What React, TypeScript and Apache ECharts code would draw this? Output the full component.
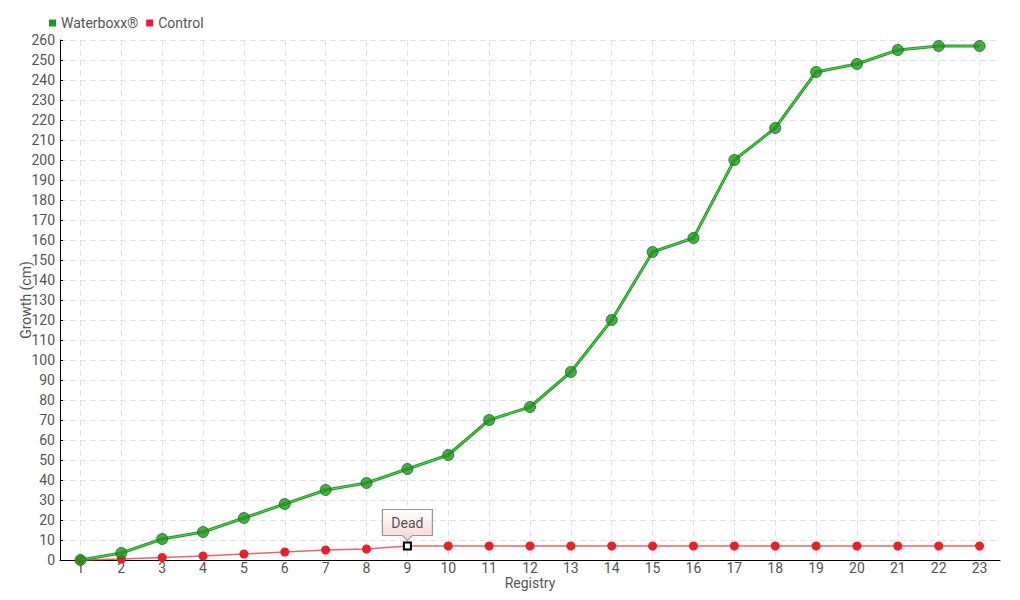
import React, { useEffect, useRef } from "react";
import * as echarts from "echarts";

const registry = ["1","2","3","4","5","6","7","8","9","10","11","12","13","14","15","16","17","18","19","20","21","22","23"];
const waterboxx = [0, 3.5, 10.5, 14, 21, 28, 35, 38.5, 45.5, 52.5, 70, 76.5, 94, 120, 154, 161, 200, 216, 244, 248, 255, 257, 257];
const control = [0, 0.5, 1.25, 2, 3, 4, 5, 5.5, 7, 7, 7, 7, 7, 7, 7, 7, 7, 7, 7, 7, 7, 7, 7];
const deadIndex = 8;
const deadLabel = "Dead";

const FONT = "Roboto, 'DejaVu Sans', sans-serif";

export default function App() {
  const ref = useRef<HTMLDivElement>(null);
  useEffect(() => {
    if (!ref.current) return;
    const chart = echarts.init(ref.current, undefined, { renderer: "svg" });
    const controlData = control.map((v, i) =>
      i === deadIndex
        ? { value: v, symbol: "rect", symbolSize: 7, itemStyle: { color: "#ffffff", borderColor: "#000000", borderWidth: 2 } }
        : v
    );
    chart.setOption({
      animation: false,
      textStyle: { fontFamily: FONT },
      legend: {
        data: ["Waterboxx®", "Control"],
        left: 44,
        top: 11,
        icon: "rect",
        itemWidth: 7,
        itemHeight: 7,
        itemGap: 8,
        textStyle: { fontFamily: FONT, fontSize: 14, color: "#555" },
      },
      grid: { left: 60, right: 20, top: 40, bottom: 40, outerBoundsMode: "none" } as any,
      xAxis: {
        type: "category",
        data: registry,
        boundaryGap: true,
        name: "Registry",
        nameLocation: "middle",
        nameGap: 16,
        nameMoveOverlap: false,
        nameTextStyle: { fontFamily: FONT, fontSize: 14, color: "#555", lineHeight: 14 },
        axisLine: { lineStyle: { color: "#000", width: 1 } },
        axisTick: { show: false },
        axisLabel: { fontFamily: FONT, fontSize: 14, color: "#555", margin: 1, lineHeight: 14 },
        splitLine: { show: true, alignWithLabel: true, lineStyle: { color: "#e2e2e2", type: [6, 4] } },
      } as any,
      yAxis: {
        type: "value",
        min: 0,
        max: 260,
        interval: 10,
        name: "Growth (cm)",
        nameLocation: "middle",
        nameGap: 27,
        nameMoveOverlap: false,
        nameTextStyle: { fontFamily: FONT, fontSize: 14, color: "#555" },
        axisLine: { show: true, lineStyle: { color: "#000", width: 1 } },
        axisTick: { show: true, inside: true, length: 3, lineStyle: { color: "#000" } },
        axisLabel: { fontFamily: FONT, fontSize: 14, color: "#555", margin: 5 },
        splitLine: { show: true, lineStyle: { color: "#e2e2e2", type: [6, 4] } },
      } as any,
      series: [
        {
          name: "Control",
          type: "line",
          data: controlData,
          symbol: "circle",
          symbolSize: 9,
          z: 2,
          itemStyle: { color: "#e8202e" },
          lineStyle: { color: "#f2606a", width: 1.5 },
          markPoint: {
            silent: true,
            symbol: "path://M0,0 H50 V26 H30 L25,31 L20,26 H0 Z",
            symbolSize: [50, 31],
            symbolOffset: [0, -21],
            itemStyle: {
              color: new echarts.graphic.LinearGradient(0, 0, 0, 1, [
                { offset: 0, color: "#ffffff" },
                { offset: 1, color: "#fbd3d3" },
              ]),
              borderColor: "#999",
              borderWidth: 1,
            },
            label: {
              show: true,
              formatter: deadLabel,
              fontFamily: FONT,
              fontSize: 14,
              color: "#555",
              offset: [0, -2],
            },
            data: [{ coord: [registry[deadIndex], control[deadIndex]] }],
          },
        },
        {
          name: "Waterboxx®",
          type: "line",
          data: waterboxx,
          symbol: "none",
          z: 3,
          itemStyle: { color: "#1f9a1f" },
          lineStyle: { color: "#1f9d1f", width: 3 },
        },
        {
          name: "wb-inner",
          type: "line",
          data: waterboxx,
          symbol: "none",
          z: 4,
          silent: true,
          lineStyle: { color: "rgba(190,240,190,0.5)", width: 1 },
        },
        {
          name: "Waterboxx®",
          type: "scatter",
          data: waterboxx,
          symbol: "circle",
          symbolSize: 11,
          z: 5,
          itemStyle: { color: "#1e951e", borderColor: "#146e14", borderWidth: 1 },
        },
      ],
    });
    return () => chart.dispose();
  }, []);
  return (
    <div
      ref={ref}
      style={{ position: "fixed", left: 0, top: 0, width: 1020, height: 600, background: "#fff" }}
    />
  );
}
